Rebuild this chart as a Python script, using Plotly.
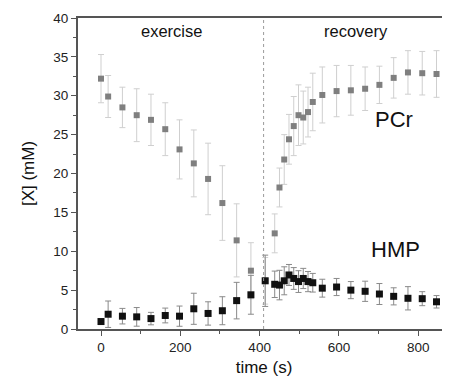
import plotly.graph_objects as go

time_s = [0, 18, 54, 90, 126, 162, 198, 234, 270, 306, 342, 378, 414,
          438, 450, 462, 474, 486, 498, 510, 522, 534, 558, 594, 630, 666,
          702, 738, 774, 810, 846]
pcr = [32.2, 29.9, 28.5, 27.5, 26.9, 25.7, 23.1, 21.3, 19.3, 16.2, 11.4, 7.5, 6.2,
       12.3, 18.2, 21.8, 24.4, 26.1, 27.5, 27.2, 27.9, 29.2, 30.1, 30.6, 30.7, 30.9,
       31.4, 32.3, 33.0, 32.9, 32.8]
pcr_err = [3.1, 2.7, 2.6, 3.4, 3.3, 3.4, 3.8, 4.3, 4.6, 4.8, 4.7, 3.6, 3.0,
           2.5, 2.5, 3.2, 3.2, 3.8, 3.9, 3.4, 3.2, 3.7, 3.6, 3.3, 3.2, 2.8,
           2.4, 2.6, 2.8, 2.8, 3.0]
hmp = [0.96, 1.9, 1.65, 1.56, 1.34, 1.74, 1.65, 2.6, 2.0, 2.35, 3.65, 4.4, 6.2,
       5.75, 5.65, 6.2, 6.95, 6.5, 6.1, 6.5, 6.1, 5.95, 5.25, 5.4, 5.0, 4.85,
       4.5, 4.2, 3.95, 3.9, 3.5]
hmp_err = [0.3, 1.7, 1.0, 1.2, 0.8, 0.95, 1.3, 2.0, 1.5, 1.8, 2.35, 2.5, 3.3,
           1.7, 1.9, 1.8, 1.35, 1.4, 1.4, 1.3, 1.3, 1.2, 1.15, 1.1, 1.1, 1.3,
           1.35, 1.1, 1.5, 0.9, 0.8]

phase_labels = ["exercise", "recovery"]
phase_x = [179, 643]
series_labels = ["PCr", "HMP"]
series_label_x = [740, 743]
series_label_y = [27.0, 10.2]
boundary_t = 410

fig = go.Figure()
fig.add_trace(go.Scatter(
    x=time_s, y=pcr, mode="markers",
    marker=dict(symbol="square", size=6, color="#7f7f7f"),
    error_y=dict(type="data", array=pcr_err, color="#cfcfcf", thickness=1, width=3),
    showlegend=False))
fig.add_trace(go.Scatter(
    x=time_s, y=hmp, mode="markers",
    marker=dict(symbol="square", size=7, color="#111111"),
    error_y=dict(type="data", array=hmp_err, color="#8a8a8a", thickness=1, width=3),
    showlegend=False))

fig.add_shape(type="line", x0=boundary_t, x1=boundary_t, y0=0, y1=40,
              xref="x", yref="y", line=dict(color="#9a9a9a", width=1, dash="dot"))

for lab, xx in zip(phase_labels, phase_x):
    fig.add_annotation(x=xx, y=38.3, text=lab, showarrow=False,
                       font=dict(family="Liberation Sans, Arial", size=16.5, color="#111"))
for lab, xx, yy in zip(series_labels, series_label_x, series_label_y):
    fig.add_annotation(x=xx, y=yy, text=lab, showarrow=False,
                       font=dict(family="Liberation Sans, Arial", size=22, color="#111"))

# page body has an 8px margin, so the figure is shrunk by 8px and offset accordingly
fig.update_layout(
    width=442, height=369,
    margin=dict(l=70, r=0, t=10, b=44),
    paper_bgcolor="white", plot_bgcolor="white",
    font=dict(family="Liberation Sans, Arial", color="#222"),
    xaxis=dict(range=[-58, 880], tickvals=[0, 200, 400, 600, 800],
               showgrid=False, zeroline=False, showline=True, linecolor="#555",
               linewidth=2, mirror=True, ticks="outside", ticklen=5, tickcolor="#555",
               tickfont=dict(size=13.5, color="#222"),
               minor=dict(tickvals=[100, 300, 500, 700], ticks="outside", ticklen=3, tickcolor="#555"),
               title=dict(text="time (s)", font=dict(size=17, color="#111"), standoff=10)),
    yaxis=dict(range=[0, 40], tickvals=[0, 5, 10, 15, 20, 25, 30, 35, 40],
               showgrid=False, zeroline=False, showline=True, linecolor="#555",
               linewidth=2, ticks="outside", ticklen=5, tickcolor="#555",
               tickfont=dict(size=13.5, color="#222"),
               minor=dict(tickvals=[2.5, 7.5, 12.5, 17.5, 22.5, 27.5, 32.5, 37.5],
                          ticks="outside", ticklen=3, tickcolor="#555"),
               title=dict(text="[X] (mM)", font=dict(size=17, color="#111"), standoff=14)),
)

fig.write_html("out.html")
